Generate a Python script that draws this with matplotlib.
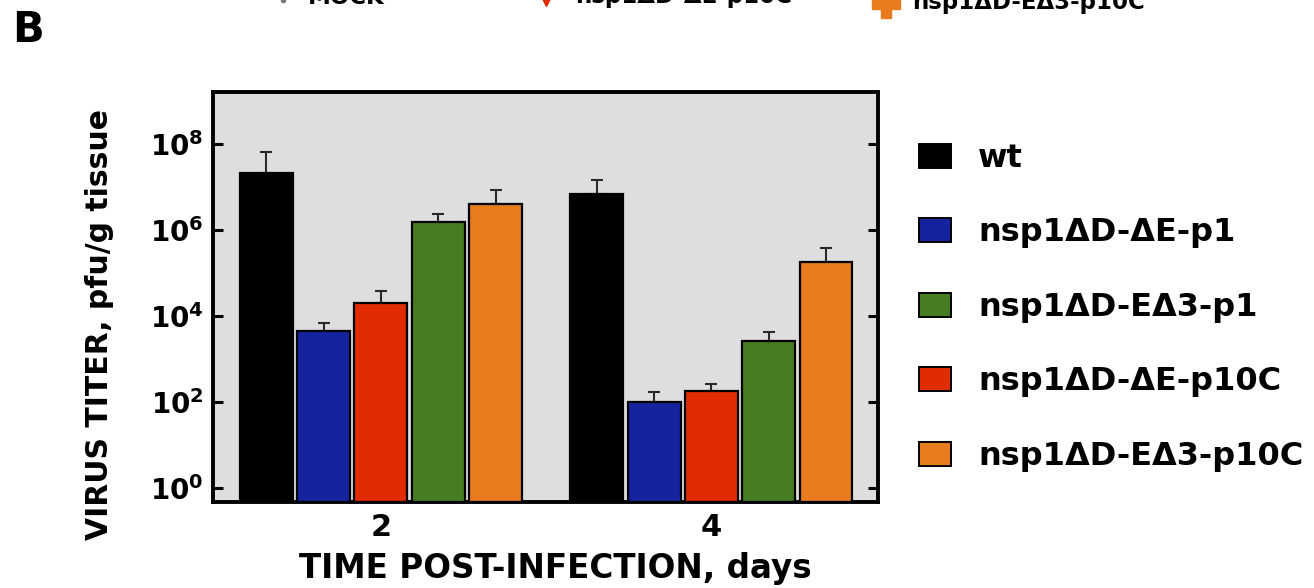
import matplotlib
matplotlib.use("Agg")
import matplotlib.pyplot as plt
from matplotlib.lines import Line2D
from matplotlib.patches import Patch
from matplotlib.ticker import FixedLocator, FuncFormatter
import numpy as np

# ---- data -------------------------------------------------------------
days = ["2", "4"]

bar_order = ["wt", "nsp1ΔD-ΔE-p1", "nsp1ΔD-ΔE-p10C", "nsp1ΔD-EΔ3-p1", "nsp1ΔD-EΔ3-p10C"]
legend_order = ["wt", "nsp1ΔD-ΔE-p1", "nsp1ΔD-EΔ3-p1", "nsp1ΔD-ΔE-p10C", "nsp1ΔD-EΔ3-p10C"]

titer_mean = {
    "wt":              [2.1e7, 6.9e6],
    "nsp1ΔD-ΔE-p1":    [4.5e3, 1.0e2],
    "nsp1ΔD-ΔE-p10C":  [2.0e4, 1.8e2],
    "nsp1ΔD-EΔ3-p1":   [1.5e6, 2.5e3],
    "nsp1ΔD-EΔ3-p10C": [4.0e6, 1.8e5],
}
titer_upper = {
    "wt":              [6.3e7, 1.4e7],
    "nsp1ΔD-ΔE-p1":    [6.6e3, 1.7e2],
    "nsp1ΔD-ΔE-p10C":  [3.8e4, 2.5e2],
    "nsp1ΔD-EΔ3-p1":   [2.3e6, 4.2e3],
    "nsp1ΔD-EΔ3-p10C": [8.5e6, 3.8e5],
}
colors = {
    "wt":              "#000000",
    "nsp1ΔD-ΔE-p1":    "#15239e",
    "nsp1ΔD-ΔE-p10C":  "#e02c00",
    "nsp1ΔD-EΔ3-p1":   "#467d20",
    "nsp1ΔD-EΔ3-p10C": "#e67c1d",
}
ytick_exps = [0, 2, 4, 6, 8]

# ---- figure -----------------------------------------------------------
plt.rcParams["font.family"] = ["DejaVu Sans"]
plt.rcParams["font.weight"] = "bold"
plt.rcParams["mathtext.fontset"] = "dejavusans"
plt.rcParams["mathtext.default"] = "bf"

W, H = 1314, 588
fig = plt.figure(figsize=(W / 100, H / 100), dpi=100)
ax = fig.add_axes([213 / W, 1 - 502 / H, (878 - 213) / W, (502 - 92) / H])
ax.set_facecolor("#dedede")

step = 0.1734
width = 0.160
xs = np.arange(len(days))
bottom = 10 ** -0.335
for i, name in enumerate(bar_order):
    pos = xs + (i - 2) * step
    mean = np.array(titer_mean[name])
    upper = np.array(titer_upper[name])
    ax.bar(pos, mean - bottom, width=width, bottom=bottom, color=colors[name],
           edgecolor="black", linewidth=1.6, zorder=3)
    ax.errorbar(pos, mean, yerr=[np.zeros_like(mean), upper - mean], fmt="none",
                ecolor="#2a2a2a", elinewidth=1.5, capsize=4.5, capthick=1.5, zorder=2)

ax.set_yscale("log")
ax.set_ylim(bottom, 10 ** 9.2)
ax.set_xlim(-0.508, 1.504)

ax.yaxis.set_major_locator(FixedLocator([10.0 ** e for e in ytick_exps]))
ax.yaxis.set_minor_locator(FixedLocator([]))
ax.yaxis.set_major_formatter(FuncFormatter(lambda v, p: r"$\mathbf{10^{%d}}$" % round(np.log10(v))))
ax.tick_params(axis="y", which="major", direction="in", left=True, right=True,
               length=7, width=2.2, labelsize=20, pad=7)
ax.set_xticks(xs)
ax.set_xticklabels(days)
ax.tick_params(axis="x", length=0, labelsize=22, pad=8)
for lab in ax.get_xticklabels() + ax.get_yticklabels():
    lab.set_fontweight("bold")

for s in ax.spines.values():
    s.set_linewidth(2.8)

fig.text(555 / W, 1 - 578 / H, "TIME POST-INFECTION, days", ha="center", va="baseline",
         fontsize=23.5, fontweight="bold")
fig.text(100 / W, 1 - 325 / H, "VIRUS TITER, pfu/g tissue", ha="center", va="center",
         rotation=90, fontsize=21.5, fontweight="bold")

# panel letter
fig.text(12 / W, 1 - 42 / H, "B", ha="left", va="baseline", fontsize=30, fontweight="bold")

# legend
handles = [Patch(facecolor=colors[n], edgecolor="black", linewidth=1.4) for n in legend_order]
fig.legend(handles, legend_order, loc="upper left", bbox_to_anchor=(919 / W, 1 - 143 / H),
           frameon=False, handlelength=1.0, handleheight=0.78,
           handletextpad=0.85, labelspacing=1.36, borderaxespad=0, borderpad=0,
           prop={"weight": "bold", "size": 23})

# remnant of the legend of the panel above, cut by the figure edge
fig.text(308 / W, 1 - 4 / H, "MOCK", ha="left", va="baseline", fontsize=16.5, fontweight="bold")
fig.text(575 / W, 1 - 3 / H, "nsp1ΔD-ΔE-p10C", ha="left", va="baseline", fontsize=16.5,
         fontweight="bold")
fig.text(912 / W, 1 - 9 / H, "nsp1ΔD-EΔ3-p10C", ha="left", va="baseline", fontsize=16.5,
         fontweight="bold")
fig.add_artist(Line2D([283 / W], [1 - 0 / H], marker="o", markersize=3, color="#777777",
                      linestyle="none", transform=fig.transFigure))
fig.add_artist(Line2D([546 / W], [1 - 1 / H], marker="v", markersize=7, color="#e02c00",
                      linestyle="none", transform=fig.transFigure))
fig.add_artist(Line2D([886 / W], [1 - 4 / H], marker="P", markersize=20, color="#e67c1d",
                      linestyle="none", transform=fig.transFigure))

fig.savefig("out.png", dpi=100, facecolor="white")
